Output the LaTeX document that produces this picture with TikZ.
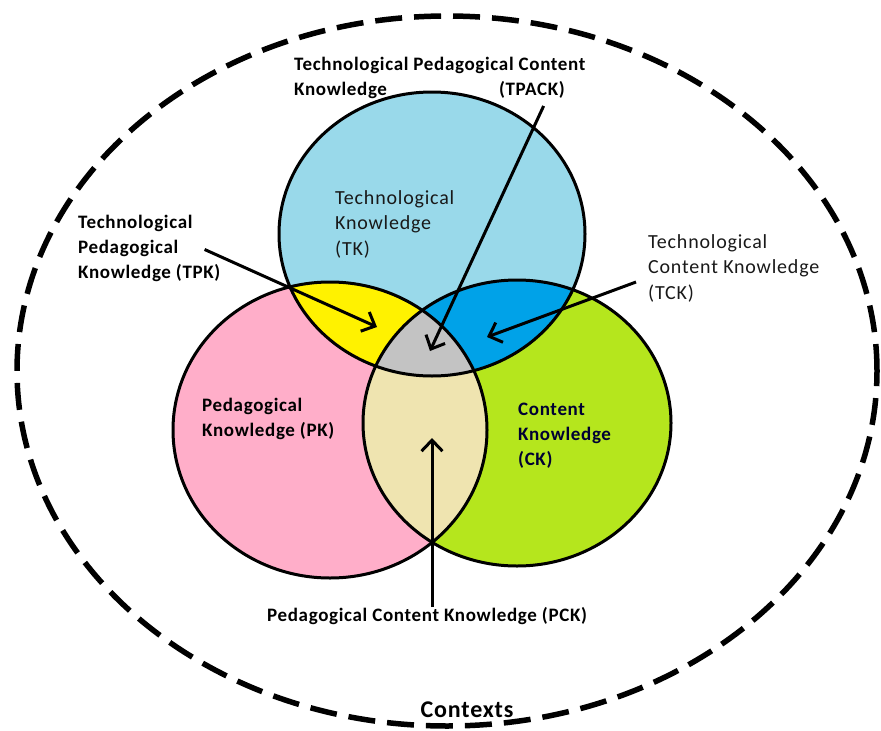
\documentclass[tikz,border=0pt]{standalone}
\usepackage{fontspec}
\setmainfont{Carlito}
\newfontfamily\widebold[LetterSpace=3.5]{Carlito}
\newfontfamily\widelight[LetterSpace=4]{Carlito}
\usepackage{tikz}
\usetikzlibrary{arrows.meta}

\definecolor{tkblue}{RGB}{153,217,234}
\definecolor{pkpink}{RGB}{255,174,201}
\definecolor{ckgreen}{RGB}{181,230,29}
\definecolor{tpkyellow}{RGB}{255,242,0}
\definecolor{tckblue}{RGB}{0,162,232}
\definecolor{pckbeige}{RGB}{239,228,176}
\definecolor{tpackgray}{RGB}{195,195,195}

\tikzset{
  label/.style={align=left, inner sep=0pt, font=\widebold\fontsize{19}{25}\selectfont\bfseries},
  lightlabel/.style={align=left, inner sep=0pt, font=\widelight\fontsize{20}{25.5}\selectfont, text=black!90},
  pointer/.style={line width=3pt, -{Straight Barb[length=11pt, width=21pt, line width=3pt]}}
}

\def\tkcircle{(432,234) ellipse [x radius=153pt, y radius=142pt]}
\def\pkcircle{(330,430) ellipse [x radius=157pt, y radius=148pt]}
\def\ckcircle{(517,423) ellipse [x radius=154pt, y radius=143pt]}

\begin{document}
\begin{tikzpicture}[x=1pt, y=-1pt]
  \useasboundingbox (0,0) rectangle (881,731);
  % outer context
  \draw[line width=5.5pt, dash pattern=on 27pt off 12pt] (447,371) ellipse [x radius=430pt, y radius=355pt];
  % the three circles
  \fill[tkblue] \tkcircle;
  \fill[pkpink] \pkcircle;
  \fill[ckgreen] \ckcircle;
  \begin{scope}
    \clip \tkcircle;
    \fill[tpkyellow] \pkcircle;
    \fill[tckblue] \ckcircle;
  \end{scope}
  \begin{scope}
    \clip \pkcircle;
    \fill[pckbeige] \ckcircle;
    \clip \ckcircle;
    \fill[tpackgray] \tkcircle;
  \end{scope}
  \draw[line width=3pt] \tkcircle;
  \draw[line width=3pt] \pkcircle;
  \draw[line width=3pt] \ckcircle;

  % labels
  \node[label, anchor=north west] (tpack) at (294,57) {Technological Pedagogical Content\\Knowledge\hspace{112pt}(TPACK)};
  \node[lightlabel, anchor=north west] (tk) at (335,190) {Technological\\Knowledge\\(TK)};
  \node[label, anchor=north west] (tpk) at (78,215) {Technological\\Pedagogical\\Knowledge (TPK)};
  \node[lightlabel, anchor=north west] (tck) at (648,234) {Technological\\Content Knowledge\\(TCK)};
  \node[label, anchor=north west] (pk) at (202,398) {Pedagogical\\Knowledge (PK)};
  \node[label, anchor=north west, text=blue!20!black] (ck) at (518,403) {Content\\Knowledge\\(CK)};
  \node[label, anchor=north west] (pck) at (267,607) {Pedagogical Content Knowledge (PCK)};
  \node[label, anchor=south, font=\widebold\fontsize{24}{28}\selectfont\bfseries] (ctx) at (467,718) {Contexts};

  % arrow ends
  \coordinate (tpkin) at (377,327);
  \coordinate (tpackin) at (430,351);
  \coordinate (tckin) at (487,337);
  \coordinate (pckin) at (432,438);

  \draw[pointer] ([xshift=-16pt, yshift=-1pt]tpk.east) -- (tpkin);
  \draw[pointer] ([xshift=-42pt, yshift=-7pt]tpack.south east) -- (tpackin);
  \draw[pointer] ([xshift=-12pt, yshift=-14pt]tck.west) -- (tckin);
  \draw[pointer] (pck.north -| pckin) -- (pckin);
\end{tikzpicture}
\end{document}
